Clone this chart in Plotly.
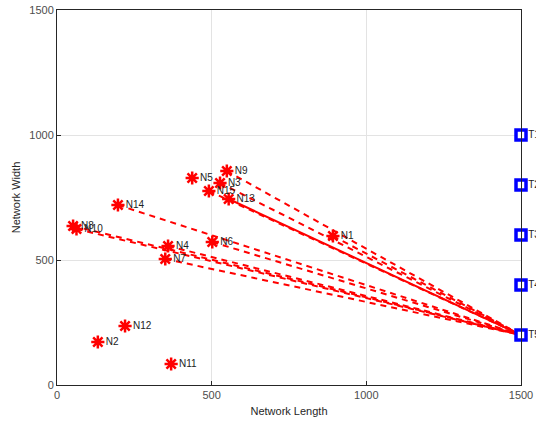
import plotly.graph_objects as go

node_names = ["N1", "N2", "N3", "N4", "N5", "N6", "N7", "N8", "N9", "N10",
              "N11", "N12", "N13", "N14", "N15"]
node_x = [892, 132, 527, 359, 437, 502, 350, 52, 549, 63, 369, 220, 555, 197, 491]
node_y = [596, 172, 808, 556, 828, 572, 504, 636, 856, 624, 84, 236, 744, 720, 776]

target_names = ["T1", "T2", "T3", "T4", "T5"]
target_x = [1500, 1500, 1500, 1500, 1500]
target_y = [1000, 800, 600, 400, 200]

dashed_links = ["N9", "N3", "N15", "N1", "N14", "N8", "N10", "N4", "N7", "N6"]
solid_links = ["N13"]
sink = "T5"

x_ticks = [0, 500, 1000, 1500]
y_ticks = [0, 500, 1000, 1500]

fig = go.Figure()

sx = target_x[target_names.index(sink)]
sy = target_y[target_names.index(sink)]

for name in dashed_links:
    i = node_names.index(name)
    fig.add_trace(go.Scatter(x=[node_x[i], sx], y=[node_y[i], sy], mode="lines",
                             line=dict(color="#ff0000", width=2, dash="6px,5px"),
                             hoverinfo="skip", showlegend=False))
for name in solid_links:
    i = node_names.index(name)
    fig.add_trace(go.Scatter(x=[node_x[i], sx], y=[node_y[i], sy], mode="lines",
                             line=dict(color="#ff0000", width=2),
                             hoverinfo="skip", showlegend=False))

fig.add_trace(go.Scatter(x=node_x, y=node_y, mode="markers+text",
                         text=node_names, textposition="middle right",
                         textfont=dict(family="Liberation Sans, Arial", size=10, color="#222222"),
                         marker=dict(symbol="asterisk-open", size=11, color="#ff0000",
                                     line=dict(color="#ff0000", width=2.5)),
                         cliponaxis=False, showlegend=False))

fig.add_trace(go.Scatter(x=target_x, y=target_y, mode="markers+text",
                         text=target_names, textposition="middle right",
                         textfont=dict(family="Liberation Sans, Arial", size=10, color="#222222"),
                         marker=dict(symbol="square", size=10, color="#ffffff",
                                     line=dict(color="#0000ff", width=3.5)),
                         cliponaxis=False, showlegend=False))

axis_common = dict(showgrid=True, gridcolor="#e3e3e3", gridwidth=1, automargin=False,
                   showline=True, linecolor="#262626", linewidth=1, mirror=True,
                   zeroline=False, ticks="inside", ticklen=4, tickcolor="#262626",
                   tickfont=dict(family="Liberation Sans, Arial", size=11, color="#4d4d4d"),
                   title_font=dict(family="Liberation Sans, Arial", size=11, color="#262626"))

fig.update_xaxes(range=[0, 1500], tickvals=x_ticks, title_text="Network Length",
                 title_standoff=7, **axis_common)
fig.update_yaxes(range=[0, 1500], tickvals=y_ticks, title_text="Network Width",
                 title_standoff=6, **axis_common)

fig.update_layout(width=536, height=421, margin=dict(l=57, r=15, t=10, b=36),
                  plot_bgcolor="#ffffff", paper_bgcolor="#ffffff")

fig.write_html("out.html")
